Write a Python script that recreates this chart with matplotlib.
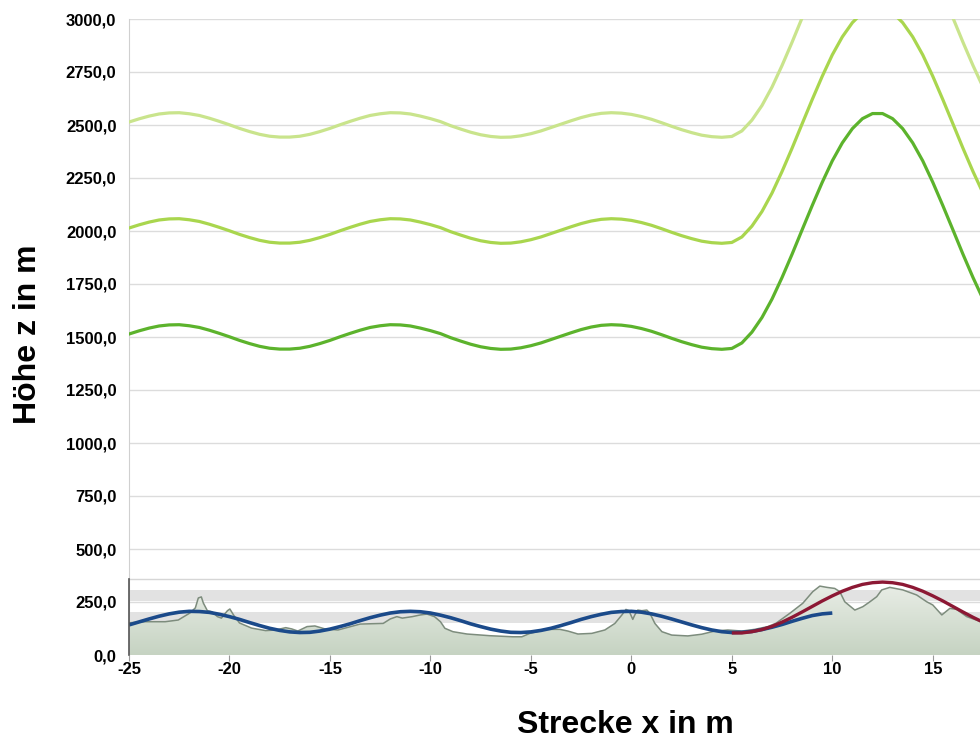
import numpy as np
import matplotlib.pyplot as plt
import matplotlib as mpl

# %% data
x_grid = np.arange(-25, 17.51, 0.5)

# lowest green line (the other two sit 500 and 1000 higher)
green_z = [1514, 1529, 1542, 1552, 1557, 1558, 1553, 1545, 1532, 1517,
	1501, 1484, 1469, 1456, 1447, 1443, 1443, 1447, 1456, 1469,
	1484, 1501, 1517, 1532, 1545, 1553, 1558, 1557, 1552, 1542,
	1530, 1516, 1497, 1481, 1466, 1454, 1446, 1442, 1443, 1449,
	1459, 1472, 1488, 1504, 1520, 1535, 1547, 1555, 1558, 1556,
	1550, 1540, 1527, 1511, 1494, 1478, 1464, 1452, 1445, 1442,
	1446, 1472, 1523, 1592, 1679, 1781, 1891, 2006, 2120, 2230,
	2331, 2416, 2483, 2530, 2554, 2554, 2530, 2483, 2416, 2331,
	2230, 2120, 2006, 1891, 1781, 1679]
green_offsets = [0, 500, 1000]
green_colors = ['#5cb32c', '#a9d64e', '#c9e48c']

blue_x = np.arange(-25, 10.01, 0.5)
blue_z = [142, 156, 170, 183, 194, 202, 206, 205, 201, 192,
	181, 168, 153, 139, 126, 116, 109, 106, 107, 113,
	122, 134, 147, 162, 176, 188, 198, 204, 206, 204,
	198, 188, 176, 162, 147, 134, 122, 113, 107, 106,
	109, 116, 126, 139, 153, 168, 181, 192, 201, 205,
	206, 202, 194, 183, 170, 156, 142, 129, 118, 110,
	106, 107, 111, 120, 131, 144, 159, 173, 186, 194,
	198]

red_x = np.arange(5.0, 17.51, 0.5)
red_z = [104, 104, 110, 120, 135, 155, 178, 203, 229, 255,
	279, 301, 319, 333, 341, 344, 341, 333, 319, 301,
	279, 255, 229, 203, 178, 155]

terrain_x = [-25.0, -24.2, -23.2, -22.55, -21.97, -21.7, -21.55, -21.4, -21.3, -21.1,
	-20.87, -20.6, -20.4, -20.1, -19.98, -19.8, -19.5, -18.9, -18.2, -17.7,
	-17.2, -16.9, -16.6, -16.14, -15.75, -15.25, -14.6, -13.5, -12.35, -12.0,
	-11.67, -11.4, -10.9, -10.5, -10.17, -9.8, -9.5, -9.28, -8.88, -8.18,
	-7.04, -5.9, -5.45, -5.05, -4.2, -3.56, -3.16, -2.66, -1.97, -1.32,
	-0.82, -0.47, -0.27, -0.12, 0.07, 0.17, 0.32, 0.52, 0.77, 0.92,
	1.17, 1.52, 2.01, 2.81, 3.5, 4.15, 4.8, 5.5, 6.14, 6.79,
	7.2, 7.89, 8.53, 9.03, 9.38, 9.73, 10.12, 10.37, 10.62, 11.12,
	11.52, 11.87, 12.21, 12.46, 12.86, 13.51, 14.2, 14.7, 15.0, 15.45,
	15.85, 16.19, 16.69, 17.4]
terrain_z = [152, 157, 157, 165, 198, 222, 269, 274, 245, 209,
	204, 181, 174, 209, 217, 189, 151, 127, 115, 118,
	129, 123, 113, 134, 137, 123, 118, 146, 149, 170,
	181, 174, 181, 189, 193, 181, 157, 126, 110, 99,
	91, 86, 86, 102, 121, 121, 113, 99, 102, 118,
	149, 189, 215, 209, 168, 189, 212, 209, 212, 197,
	149, 110, 94, 90, 98, 113, 118, 113, 121, 134,
	150, 197, 244, 299, 325, 319, 314, 299, 251, 212,
	228, 251, 275, 307, 319, 307, 283, 251, 236, 189,
	220, 215, 181, 157]

yticks = np.arange(0, 3001, 250)
xticks = np.arange(-25, 16, 5)

# %%
plt.rcParams['font.family'] = ['Liberation Sans', 'DejaVu Sans']
fig = plt.figure(figsize=(9.8, 7.4), dpi=100)
ax = fig.add_axes([129/980, 1 - 655/740, 1 - 129/980, (655 - 19)/740])

ax.set_xlim(-25, 17.35)
ax.set_ylim(0, 3000)

# light grey banding of the terrain inset
ax.axhspan(255, 306, color='#e2e2e2', zorder=1, lw=0)
ax.axhspan(151, 203, color='#e2e2e2', zorder=1, lw=0)
ax.axhline(358, color='#d6d6d6', lw=1, zorder=1)

# terrain with shaded fill
fill = ax.fill_between(terrain_x, 0, terrain_z, color='none', lw=0, zorder=2)
grad = np.linspace(0, 1, 100).reshape(-1, 1)
cmap = mpl.colors.LinearSegmentedColormap.from_list('terr', ['#c6d3c2', '#e8ede6'])
im = ax.imshow(grad, cmap=cmap, origin='lower', aspect='auto',
	extent=[-25, 17.35, 0, 330], zorder=2)
im.set_clip_path(fill.get_paths()[0], transform=ax.transData)
ax.plot(terrain_x, terrain_z, color='#7d8c7d', lw=1.1, zorder=3)

ax.plot(blue_x, blue_z, color='#1b4a8a', lw=2.6, zorder=4, solid_capstyle='butt')
ax.plot(red_x, red_z, color='#8c1834', lw=2.4, zorder=5, solid_capstyle='butt')

for off, c in zip(green_offsets[::-1], green_colors[::-1]):
	ax.plot(x_grid, np.array(green_z) + off, color=c, lw=2.3, zorder=4)

ax.set_yticks(yticks)
ax.set_yticklabels([f'{v:.1f}'.replace('.', ',') for v in yticks])
ax.set_xticks(xticks)
ax.set_xticklabels([str(v) for v in xticks])
ax.grid(axis='y', color='#dcdcdc', lw=1, zorder=0)
ax.set_axisbelow(True)

for s in ['top', 'right', 'bottom']:
	ax.spines[s].set_visible(False)
ax.spines['left'].set_color('#d0d0d0')
ax.plot([-25, -25], [0, 358], color='#555555', lw=1.2, clip_on=False, zorder=6)

ax.tick_params(axis='y', length=0, pad=9, labelsize=12)
ax.tick_params(axis='x', length=4, color='#999999', pad=1, labelsize=12)
for lab in ax.get_xticklabels() + ax.get_yticklabels():
	lab.set_fontweight('bold')

fig.text(0.638, 1 - 725/740, 'Strecke x in m', ha='center', va='center',
	fontsize=23, fontweight='bold')
fig.text(28/980, 1 - 334/740, 'Höhe z in m', ha='center', va='center',
	rotation=90, fontsize=23, fontweight='bold')

fig.savefig('out.png', dpi=100)
